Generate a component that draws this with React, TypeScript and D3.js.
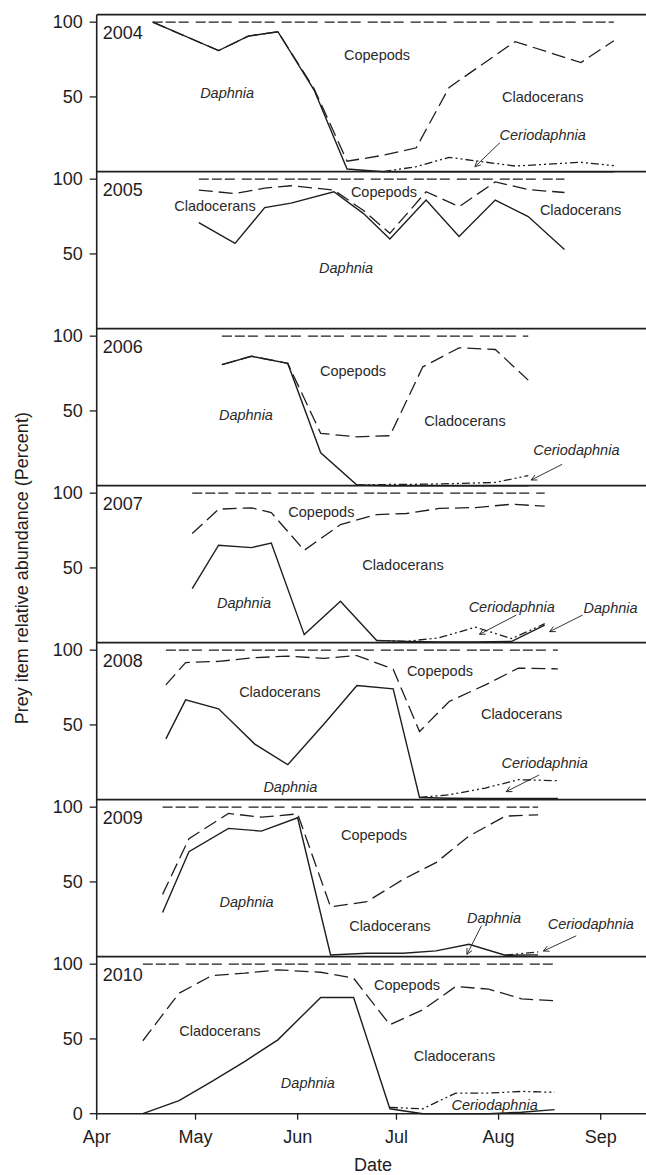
import React from 'react';
import * as d3 from 'd3';

// ---------- data (MM-DD sampling dates, percent values, cumulative) ----------
const years = ['2004', '2005', '2006', '2007', '2008', '2009', '2010'];
const monthTicks = ['04-01', '05-01', '06-01', '07-01', '08-01', '09-01'];
const yTicks = [50, 100];

const dates2004 = ['04-18', '05-08', '05-17', '05-26', '06-06', '06-16', '06-27', '07-07', '07-17', '08-06', '08-26', '09-05'];
const daphnia2004 = [100, 81, 90.7, 93.6, 54.6, 1.8, 0, 0, 0, 0, 0, 0];
const cerio2004 = [null, null, null, null, null, null, 0, 3.4, 9.6, 3.8, 6.3, 4];
const clad2004 = [100, 81, 90.7, 93.6, 55.5, 7, 11, 16, 56.4, 87, 73, 87.6];

const dates2005 = ['05-02', '05-13', '05-22', '05-30', '06-12', '06-21', '06-29', '07-10', '07-20', '07-31', '08-10', '08-21'];
const daphnia2005 = [71, 57, 81, 84, 91.6, 77, 60, 86, 61.6, 86, 75, 53];
const cerio2005 = [null, null, null, null, null, null, null, null, null, null, null, null];
const clad2005 = [92.7, 90.4, 94, 95.6, 92.7, 79, 63.8, 91.6, 81.6, 98.2, 93, 91.1];

const dates2006 = ['05-09', '05-18', '05-29', '06-08', '06-19', '06-29', '07-09', '07-20', '07-31', '08-10'];
const daphnia2006 = [81, 86.6, 81.8, 22, 0.5, 0, 0, 0, 0, 0];
const cerio2006 = [null, null, null, null, 0.5, 0.8, 1, 1.5, 2.2, 6.7];
const clad2006 = [81, 86.6, 81.8, 35, 32.7, 33.4, 79.5, 92.2, 91.1, 70.6];

const dates2007 = ['04-30', '05-08', '05-18', '05-24', '06-03', '06-14', '06-25', '07-04', '07-14', '07-25', '08-05', '08-15'];
const daphnia2007 = [36.2, 65.2, 63.6, 66.7, 5.4, 27.7, 1.5, 0.9, 0.5, 0.5, 0.9, 11.7];
const cerio2007 = [null, null, null, null, null, null, 1.5, 0.9, 3.3, 10.4, 2.7, 12.7];
const clad2007 = [73, 89.3, 90.2, 87, 61.8, 79, 85.7, 86.4, 89.8, 90.4, 92.6, 91.3];

const dates2008 = ['04-22', '04-28', '05-08', '05-19', '05-29', '06-09', '06-19', '06-30', '07-08', '07-17', '07-28', '08-07', '08-19'];
const daphnia2008 = [40.7, 66.8, 60.8, 37.2, 23.4, 50.6, 76.4, 74.1, 1.5, 1, 0.8, 0.8, 0.8];
const cerio2008 = [null, null, null, null, null, null, null, null, 1.5, 3.3, 7.8, 13.4, 12.7];
const clad2008 = [76.8, 91.7, 92.5, 95, 96, 94.5, 96.4, 87.3, 45.6, 65.7, 76.8, 88, 87.5];

const dates2009 = ['04-21', '04-29', '05-11', '05-21', '06-01', '06-11', '06-22', '07-03', '07-13', '07-23', '08-03', '08-13'];
const daphnia2009 = [29.5, 70.2, 85.8, 84, 92.9, 1.2, 2.3, 2.3, 3.9, 8.3, 1, 1.2];
const cerio2009 = [null, null, null, null, null, null, null, null, null, null, 1, 3.2];
const clad2009 = [41.7, 78.9, 95.8, 93.3, 95.5, 33.3, 36.8, 51.7, 62.9, 80.6, 94, 94.9];

const dates2010 = ['04-15', '04-26', '05-06', '05-16', '05-26', '06-08', '06-18', '06-29', '07-09', '07-19', '07-29', '08-08', '08-18'];
const daphnia2010 = [0, 8.7, 21.6, 35, 49.4, 77.7, 77.7, 3.3, 0, 0, 0, 1, 2.7];
const cerio2010 = [null, null, null, null, null, null, null, 4.2, 3.3, 13.8, 13.8, 14.9, 14.3];
const clad2010 = [48.8, 80.6, 92.4, 94, 96.2, 94.6, 90.6, 59.5, 69.5, 85.1, 83.3, 76.8, 75.5];

// ---------- annotations (day offset from Apr 1, value in percent) ----------
type Lab = { t: string; it?: boolean; d: number; v: number };
type Arr = { d1: number; v1: number; d2: number; v2: number };

const labels2004: Lab[] = [
  { t: 'Copepods', d: 85.1, v: 78 },
  { t: 'Daphnia', it: true, d: 39.6, v: 52.8 },
  { t: 'Cladocerans', d: 135.4, v: 50.2 },
  { t: 'Ceriodaphnia', it: true, d: 135.4, v: 24.5 },
];
const arrows2004: Arr[] = [{ d1: 122.4, v1: 19.4, d2: 114.8, v2: 3.3 }];
const labels2005: Lab[] = [
  { t: 'Cladocerans', d: 35.9, v: 82.3 },
  { t: 'Copepods', d: 87.2, v: 91.2 },
  { t: 'Cladocerans', d: 146.9, v: 79.4 },
  { t: 'Daphnia', it: true, d: 75.7, v: 40.4 },
];
const arrows2005: Arr[] = [];
const labels2006: Lab[] = [
  { t: 'Copepods', d: 77.8, v: 76.9 },
  { t: 'Daphnia', it: true, d: 45.3, v: 47.3 },
  { t: 'Cladocerans', d: 111.8, v: 43.3 },
  { t: 'Ceriodaphnia', it: true, d: 145.6, v: 23.9 },
];
const arrows2006: Arr[] = [{ d1: 141.3, v1: 14.3, d2: 131.9, v2: 3.8 }];
const labels2007: Lab[] = [
  { t: 'Copepods', d: 68.2, v: 87.6 },
  { t: 'Cladocerans', d: 93, v: 52 },
  { t: 'Daphnia', it: true, d: 44.7, v: 26.4 },
  { t: 'Ceriodaphnia', it: true, d: 126, v: 24.1 },
  { t: 'Daphnia', it: true, d: 156, v: 23.4 },
];
const arrows2007: Arr[] = [
  { d1: 127.4, v1: 18.5, d2: 116.2, v2: 5.6 },
  { d1: 147.5, v1: 18.5, d2: 137.5, v2: 7.4 },
];
const labels2008: Lab[] = [
  { t: 'Copepods', d: 104.2, v: 86.1 },
  { t: 'Cladocerans', d: 55.6, v: 71.8 },
  { t: 'Cladocerans', d: 129, v: 57.1 },
  { t: 'Ceriodaphnia', it: true, d: 136, v: 24.3 },
  { t: 'Daphnia', it: true, d: 58.8, v: 8.7 },
];
const arrows2008: Arr[] = [{ d1: 134.3, v1: 16.5, d2: 124.3, v2: 5.4 }];
const labels2009: Lab[] = [
  { t: 'Copepods', d: 84.2, v: 81.4 },
  { t: 'Daphnia', it: true, d: 45.5, v: 36.4 },
  { t: 'Cladocerans', d: 89, v: 20.7 },
  { t: 'Daphnia', it: true, d: 120.6, v: 26.1 },
  { t: 'Ceriodaphnia', it: true, d: 150, v: 21.7 },
];
const arrows2009: Arr[] = [
  { d1: 116.8, v1: 20.7, d2: 112.4, v2: 1.6 },
  { d1: 145.6, v1: 14, d2: 135.6, v2: 3.8 },
];
const labels2010: Lab[] = [
  { t: 'Copepods', d: 94.2, v: 86.1 },
  { t: 'Cladocerans', d: 37.4, v: 55.3 },
  { t: 'Cladocerans', d: 108.6, v: 38.8 },
  { t: 'Daphnia', it: true, d: 64.1, v: 20.3 },
  { t: 'Ceriodaphnia', it: true, d: 120.8, v: 5.8 },
];
const arrows2010: Arr[] = [];

// ---------- assembly ----------
const panelData = [
  { dates: dates2004, daphnia: daphnia2004, cerio: cerio2004, clad: clad2004, labels: labels2004, arrows: arrows2004 },
  { dates: dates2005, daphnia: daphnia2005, cerio: cerio2005, clad: clad2005, labels: labels2005, arrows: arrows2005 },
  { dates: dates2006, daphnia: daphnia2006, cerio: cerio2006, clad: clad2006, labels: labels2006, arrows: arrows2006 },
  { dates: dates2007, daphnia: daphnia2007, cerio: cerio2007, clad: clad2007, labels: labels2007, arrows: arrows2007 },
  { dates: dates2008, daphnia: daphnia2008, cerio: cerio2008, clad: clad2008, labels: labels2008, arrows: arrows2008 },
  { dates: dates2009, daphnia: daphnia2009, cerio: cerio2009, clad: clad2009, labels: labels2009, arrows: arrows2009 },
  { dates: dates2010, daphnia: daphnia2010, cerio: cerio2010, clad: clad2010, labels: labels2010, arrows: arrows2010 },
];

const parse = (s: string) => {
  const [m, d] = s.split('-').map(Number);
  return new Date(2000, m - 1, d);
};
const APR1 = new Date(2000, 3, 1);
const dayToDate = (d: number) => new Date(APR1.getTime() + d * 86400000);

const W = 646;
const H = 1175;
const LEFT = 96.7;
const TOP = 14.7;
const PH = 157;
const FONT = "'Liberation Sans', Arial, Helvetica, sans-serif";
const INK = '#1e1e1e';

const x = d3.scaleTime().domain([APR1, new Date(2000, 8, 1)]).range([LEFT, 600.7]);

export default function App() {
  const bottomAxis = TOP + PH * years.length;
  return (
    <svg width={W} height={H} style={{ position: 'absolute', left: 0, top: 0, background: '#fff' }}>
      <defs>
        <marker id="ah" viewBox="0 0 10 10" refX="9" refY="5" markerWidth="7" markerHeight="7" orient="auto" markerUnits="userSpaceOnUse">
          <path d="M1,1 L9,5 L1,9" fill="none" stroke={INK} strokeWidth={1.2} />
        </marker>
      </defs>
      {panelData.map((p, i) => {
        const top = TOP + PH * i;
        const bottom = top + PH;
        const y = d3.scaleLinear().domain([0, 105]).range([bottom, top]);
        const pts = (vals: (number | null)[]) => p.dates.map((d, k) => [parse(d), vals[k]] as [Date, number | null]);
        const line = d3
          .line<[Date, number | null]>()
          .defined((d) => d[1] != null)
          .x((d) => x(d[0]))
          .y((d) => y(d[1] as number));
        const totalVals = p.dates.map(() => 100);
        const ticks = i === years.length - 1 ? [0, ...yTicks] : yTicks;
        return (
          <g key={years[i]}>
            <line x1={LEFT} x2={W} y1={top} y2={top} stroke={INK} strokeWidth={1.8} />
            {ticks.map((t) => (
              <g key={t}>
                <line x1={LEFT - 7} x2={LEFT} y1={y(t)} y2={y(t)} stroke={INK} strokeWidth={1.3} />
                <text x={LEFT - 14} y={y(t)} dy="0.35em" textAnchor="end" fontFamily={FONT} fontSize={18} fill={INK}>
                  {t}
                </text>
              </g>
            ))}
            <text x={LEFT + 6} y={y(89)} fontFamily={FONT} fontSize={18} fill={INK}>
              {years[i]}
            </text>
            <path d={line(pts(totalVals)) || ''} fill="none" stroke={INK} strokeWidth={1.3} strokeDasharray="10,3,10,3,10,7" />
            <path d={line(pts(p.daphnia)) || ''} fill="none" stroke={INK} strokeWidth={1.4} />
            <path d={line(pts(p.clad)) || ''} fill="none" stroke={INK} strokeWidth={1.3} strokeDasharray="14,6" />
            <path d={line(pts(p.cerio)) || ''} fill="none" stroke={INK} strokeWidth={1.3} strokeDasharray="8,3,2,3,2,3" />
            {p.labels.map((l, k) => (
              <text
                key={k}
                x={x(dayToDate(l.d))}
                y={y(l.v)}
                dy="0.35em"
                textAnchor="middle"
                fontFamily={FONT}
                fontSize={14.5}
                fontStyle={l.it ? 'italic' : 'normal'}
                fill="#2a2a2a"
              >
                {l.t}
              </text>
            ))}
            {p.arrows.map((a, k) => (
              <line
                key={k}
                x1={x(dayToDate(a.d1))}
                y1={y(a.v1)}
                x2={x(dayToDate(a.d2))}
                y2={y(a.v2)}
                stroke={INK}
                strokeWidth={0.9}
                markerEnd="url(#ah)"
              />
            ))}
          </g>
        );
      })}
      <line x1={LEFT} x2={LEFT} y1={TOP} y2={bottomAxis} stroke={INK} strokeWidth={1.6} />
      <line x1={LEFT} x2={W} y1={bottomAxis} y2={bottomAxis} stroke={INK} strokeWidth={1.6} />
      {monthTicks.map((m) => {
        const d = parse(m);
        return (
          <g key={m}>
            <line x1={x(d)} x2={x(d)} y1={bottomAxis} y2={bottomAxis + 6} stroke={INK} strokeWidth={1.3} />
            <text x={x(d)} y={bottomAxis + 29} textAnchor="middle" fontFamily={FONT} fontSize={18} fill={INK}>
              {d3.timeFormat('%b')(d)}
            </text>
          </g>
        );
      })}
      <text x={373} y={1171} textAnchor="middle" fontFamily={FONT} fontSize={18} fill={INK}>
        Date
      </text>
      <text
        transform={`translate(28,${(TOP + bottomAxis) / 2 + 4}) rotate(-90)`}
        textAnchor="middle"
        fontFamily={FONT}
        fontSize={18}
        fill={INK}
      >
        Prey item relative abundance (Percent)
      </text>
    </svg>
  );
}
